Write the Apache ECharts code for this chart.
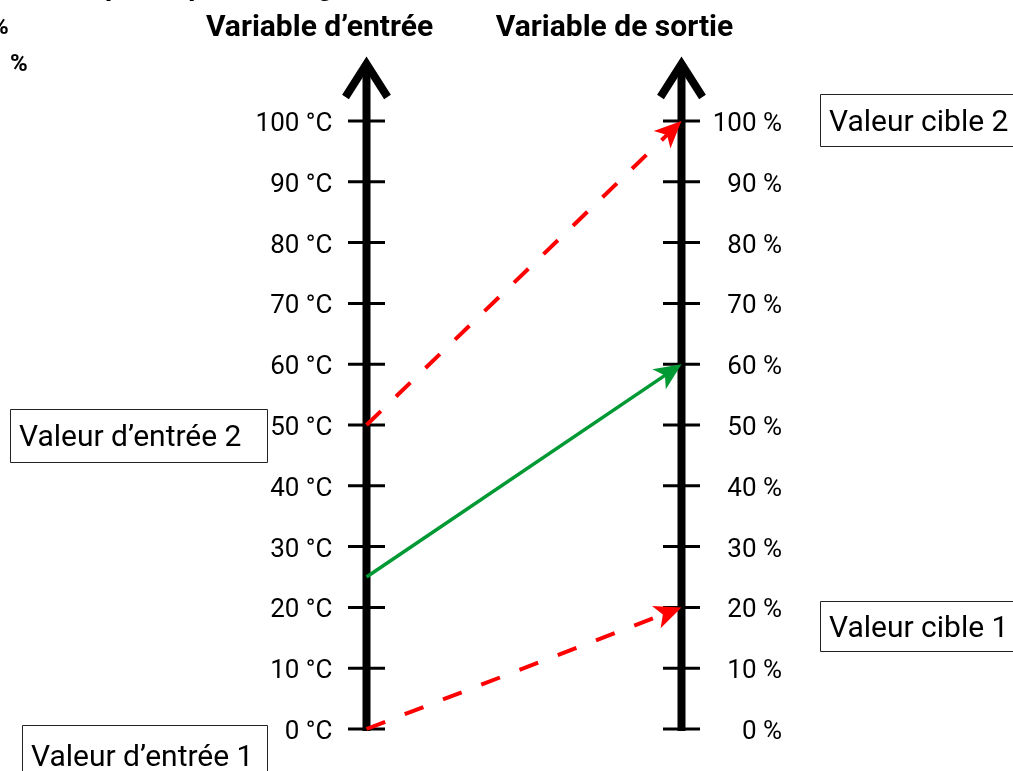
<!DOCTYPE html>
<html>
<head>
<meta charset="utf-8">
<script src="https://cdn.jsdelivr.net/npm/echarts@6/dist/echarts.min.js"></script>
<style>
html,body{margin:0;padding:0;background:#fff;}
#chart{width:1013px;height:771px;}
</style>
</head>
<body>
<div id="chart"></div>
<script>
// ---- data ----
const axisPositions = [0, 1];                 // 0 = input axis, 1 = output axis
const tickValues = [0, 10, 20, 30, 40, 50, 60, 70, 80, 90, 100];
const inputUnit = '°C';
const outputUnit = '%';
const scaleMappings = [[0, 20], [50, 100]];   // red dashed: input value -> target value
const exampleMapping = [[25, 60]];            // green: example input -> output
const inputTitle = 'Variable d’entrée';
const outputTitle = 'Variable de sortie';
const boxLabels = ['Valeur d’entrée 2', 'Valeur d’entrée 1', 'Valeur cible 2', 'Valeur cible 1'];
const hiddenTitle = 'Exemple de paramétrage';

const chart = echarts.init(document.getElementById('chart'));

function axisRender(params, api) {
  const x = api.value(0);
  const p0 = api.coord([x, 0]);
  const p100 = api.coord([x, 100]);
  const px = p0[0];
  const tipY = p100[1] - 58;
  const children = [];
  children.push({type: 'line', shape: {x1: px, y1: p0[1] + 2, x2: px, y2: tipY + 4},
    style: {stroke: '#000', lineWidth: 8}});
  children.push({type: 'polyline', shape: {points: [[px - 21, tipY + 34], [px, tipY + 1], [px + 21, tipY + 34]]},
    style: {stroke: '#000', lineWidth: 8, fill: null, lineJoin: 'miter'}});
  tickValues.forEach(function (v) {
    const p = api.coord([x, v]);
    children.push({type: 'line', shape: {x1: px - 18.5, y1: p[1], x2: px + 18.5, y2: p[1]},
      style: {stroke: '#000', lineWidth: 3}});
  });
  return {type: 'group', children: children};
}

function makeArrowRender(color, width, dash) {
  return function (params, api) {
    const a = api.coord([0, api.value(0)]);
    const b = api.coord([1, api.value(1)]);
    const dx = b[0] - a[0], dy = b[1] - a[1];
    const len = Math.sqrt(dx * dx + dy * dy);
    const ux = dx / len, uy = dy / len;
    const nx = -uy, ny = ux;
    const L = 27, W = 12, N = 7;
    const bc = [b[0] - ux * L, b[1] - uy * L];
    const c1 = [bc[0] + nx * W, bc[1] + ny * W];
    const c2 = [bc[0] - nx * W, bc[1] - ny * W];
    const notch = [bc[0] + ux * N, bc[1] + uy * N];
    return {type: 'group', children: [
      {type: 'line', shape: {x1: a[0], y1: a[1], x2: notch[0], y2: notch[1]},
        style: {stroke: color, lineWidth: width, lineDash: dash, lineCap: 'butt'}},
      {type: 'polygon', shape: {points: [b, c1, notch, c2]}, style: {fill: color}}
    ]};
  };
}

function box(x, y, w, h, text) {
  return {
    type: 'group', children: [
      {type: 'rect', shape: {x: x + 0.5, y: y + 0.5, width: w, height: h},
        style: {fill: '#fff', stroke: '#222', lineWidth: 1}},
      {type: 'text', x: x + 9, y: y + h / 2 + 3,
        style: {text: text, font: '30px Roboto', fill: '#000', verticalAlign: 'middle', align: 'left'}}
    ]
  };
}

const labelRich = {l: {fontFamily: 'Roboto', fontSize: 26, color: '#000', padding: [7, 0, 0, 0]}};

const option = {
  backgroundColor: '#fff',
  animation: false,
  grid: {left: 366.5, right: 331.5, top: 121, bottom: 42, containLabel: false},
  xAxis: {type: 'value', min: 0, max: 1, show: false},
  yAxis: [
    {type: 'value', position: 'left', min: 0, max: 100, interval: 10,
      axisLine: {show: false}, axisTick: {show: false}, splitLine: {show: false},
      axisLabel: {margin: 34, fontFamily: 'Roboto', fontSize: 26, color: '#000', rich: labelRich,
        formatter: function (v) { return '{l|' + v + ' ' + inputUnit + '}'; }}},
    {type: 'value', position: 'right', min: 0, max: 100, interval: 10,
      axisLine: {show: false}, axisTick: {show: false}, splitLine: {show: false},
      axisLabel: {margin: 100.5, align: 'right', fontFamily: 'Roboto', fontSize: 26, color: '#000', rich: labelRich,
        formatter: function (v) { return '{l|' + v + ' ' + outputUnit + '}'; }}}
  ],
  series: [
    {type: 'custom', name: 'axes', renderItem: axisRender, data: axisPositions.map(function (p) { return [p]; }),
      encode: {x: 0}, silent: true, z: 1},
    {type: 'custom', name: 'plage', renderItem: makeArrowRender('#ff0000', 4, [20, 21]),
      data: scaleMappings, encode: {y: [0, 1]}, silent: true, z: 2},
    {type: 'custom', name: 'exemple', renderItem: makeArrowRender('#009933', 3.5, null),
      data: exampleMapping, encode: {y: [0, 1]}, silent: true, z: 3}
  ],
  graphic: [
    {type: 'text', x: 36, y: -12.5, style: {text: hiddenTitle, font: 'bold 28px Roboto', fill: '#000', verticalAlign: 'middle'}},
    {type: 'text', x: -9, y: 28, style: {text: '%', font: 'bold 24px Roboto', fill: '#000', verticalAlign: 'middle'}},
    {type: 'text', x: 10, y: 65, style: {text: '%', font: 'bold 24px Roboto', fill: '#000', verticalAlign: 'middle'}},
    {type: 'text', x: 319.5, y: 28, style: {text: inputTitle, font: 'bold 30px Roboto', fill: '#000', align: 'center', verticalAlign: 'middle'}},
    {type: 'text', x: 614.5, y: 28, style: {text: outputTitle, font: 'bold 30px Roboto', fill: '#000', align: 'center', verticalAlign: 'middle'}},
    box(10, 409, 257, 53, boxLabels[0]),
    box(22, 725, 245, 60, boxLabels[1]),
    box(820, 94, 220, 52, boxLabels[2]),
    box(820, 601, 220, 50, boxLabels[3])
  ]
};
chart.setOption(option);
</script>
</body>
</html>
